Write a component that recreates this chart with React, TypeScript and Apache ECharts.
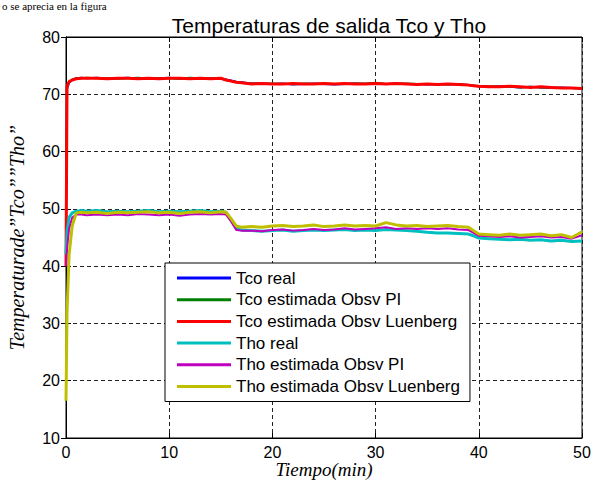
import React, { useEffect, useRef } from "react";
import * as echarts from "echarts";

const TITLE = "Temperaturas de salida Tco y Tho";
const X_NAME = "Tiempo(min)";
const Y_NAME = "Temperaturade”Tco””Tho”";
const TOP_TEXT = "o se aprecia en la figura";
const SERIES_NAMES = [
  "Tco real",
  "Tco estimada Obsv PI",
  "Tco estimada Obsv Luenberg",
  "Tho real",
  "Tho estimada Obsv PI",
  "Tho estimada Obsv Luenberg",
];
const COLORS = ["#0000ff", "#008000", "#ff0000", "#00bfbf", "#bf00bf", "#bfbf00"];
const WIDTHS = [2, 2, 3, 3, 2, 3];

// time (min)
const T = [
  0, 0.1, 0.3, 0.6, 1, 1.5, 2,
  3, 4, 5, 6, 7, 8, 9, 10, 11, 12, 13, 14, 15,
  15.5, 16, 16.5,
  17, 18, 19, 20, 21, 22, 23, 24, 25, 26, 27, 28, 29, 30, 31, 32, 33, 34, 35, 36, 37, 38, 39,
  39.5, 40, 41, 42, 43, 44, 45, 46, 47, 48, 49, 50,
];

const tcoReal = [
  46, 71.0, 72.0, 72.5, 72.8, 72.9, 72.8,
  72.9, 72.7, 72.8, 72.9, 72.7, 72.8, 72.8, 72.9, 72.7, 72.8, 72.7, 72.8, 72.7,
  72.6, 72.4, 72.2,
  72.1, 71.9, 71.9, 71.8, 71.9, 71.7, 71.8, 71.9, 71.8, 71.7, 71.8, 71.9, 71.8, 71.9, 71.8, 71.9, 71.8, 71.8, 71.7, 71.8, 71.7, 71.8, 71.6,
  71.5, 71.4, 71.3, 71.4, 71.3, 71.2, 71.3, 71.2, 71.1, 71.2, 71.1, 71.0,
];
const tcoPI = [
  48, 71.2, 72.1, 72.6, 72.8, 72.8, 72.9,
  72.8, 72.8, 72.7, 72.8, 72.9, 72.7, 72.8, 72.8, 72.7, 72.9, 72.8, 72.7, 72.8,
  72.5, 72.3, 72.1,
  72.0, 71.9, 71.8, 71.9, 71.8, 71.8, 71.9, 71.8, 71.9, 71.8, 71.8, 71.9, 71.9, 72.0, 71.8, 71.8, 71.9, 71.8, 71.8, 71.7, 71.8, 71.7, 71.6,
  71.5, 71.4, 71.4, 71.3, 71.3, 71.2, 71.3, 71.2, 71.2, 71.1, 71.1, 71.0,
];
const tcoLuen = [
  40, 71.5, 72.2, 72.5, 72.7, 72.8, 72.8,
  72.8, 72.7, 72.8, 72.8, 72.7, 72.8, 72.7, 72.8, 72.8, 72.7, 72.8, 72.7, 72.8,
  72.5, 72.3, 72.1,
  72.0, 71.8, 71.9, 71.8, 71.8, 71.9, 71.8, 71.8, 71.9, 71.8, 71.9, 71.8, 71.8, 71.9, 71.8, 71.9, 71.8, 71.7, 71.8, 71.7, 71.8, 71.7, 71.6,
  71.5, 71.4, 71.3, 71.3, 71.4, 71.3, 71.2, 71.3, 71.2, 71.1, 71.1, 71.0,
];
const thoReal = [
  42, 46.0, 48.5, 49.3, 49.6, 49.7, 49.6,
  49.7, 49.5, 49.6, 49.5, 49.6, 49.7, 49.5, 49.6, 49.5, 49.6, 49.7, 49.5, 49.6,
  49.4, 48.0, 46.6,
  46.3, 46.2, 46.1, 46.2, 46.3, 46.1, 46.2, 46.3, 46.2, 46.3, 46.4, 46.2, 46.3, 46.2, 46.4, 46.3, 46.2, 46.1, 45.9, 45.8, 45.8, 45.7, 45.6,
  45.3, 44.9, 44.8, 44.7, 44.6, 44.7, 44.5, 44.6, 44.4, 44.5, 44.3, 44.4,
];
const thoPI = [
  40, 43, 46.5, 48.5, 49.0, 49.0, 48.9,
  49.0, 48.9, 49.0, 48.9, 49.1, 49.0, 48.9, 49.0, 48.8, 49.0, 49.1, 49.0, 49.1,
  49.0, 47.8, 46.3,
  46.2, 46.2, 46.1, 46.3, 46.4, 46.2, 46.3, 46.5, 46.3, 46.4, 46.6, 46.4, 46.5, 46.6, 46.8, 46.5, 46.6, 46.5, 46.6, 46.5, 46.6, 46.4, 46.3,
  45.8, 45.3, 45.2, 45.1, 45.2, 45.0, 45.1, 45.2, 45.0, 45.1, 44.8, 45.4,
];
const thoLuen = [
  16.5, 32, 42, 47, 49.3, 49.4, 49.3,
  49.4, 49.2, 49.4, 49.3, 49.4, 49.5, 49.3, 49.4, 49.2, 49.4, 49.5, 49.3, 49.5,
  49.4, 48.3, 47.0,
  46.8, 46.9, 46.8, 47.0, 47.1, 46.9, 47.0, 47.2, 46.9, 47.0, 47.2, 47.0, 47.1, 47.0, 47.6, 47.2, 47.0, 47.1, 46.9, 47.0, 47.1, 46.9, 46.8,
  46.2, 45.6, 45.5, 45.4, 45.6, 45.4, 45.5, 45.6, 45.3, 45.5, 45.0, 46.0,
];

const ALL = [tcoReal, tcoPI, tcoLuen, thoReal, thoPI, thoLuen];

export default function App() {
  const ref = useRef<HTMLDivElement>(null);
  useEffect(() => {
    if (!ref.current) return;
    const chart = echarts.init(ref.current, null, { renderer: "svg" });
    const gridLine = { show: true, lineStyle: { color: "#222", width: 1, type: [4, 3] as any } };
    const tickFont = { fontFamily: "Arial, 'Liberation Sans', sans-serif", fontSize: 16, color: "#000" };
    chart.setOption({
      animation: false,
      backgroundColor: "#fff",
      title: {
        text: TITLE,
        left: 324,
        textAlign: "center",
        top: 10,
        textStyle: { fontFamily: "Arial, 'Liberation Sans', sans-serif", fontSize: 21, fontWeight: "normal", color: "#000" },
      },
      graphic: [
        {
          type: "text",
          left: 2,
          top: 0,
          style: { text: TOP_TEXT, font: "11px 'Liberation Serif', serif", fill: "#000" },
        },
        {
          type: "text",
          x: 324,
          y: 469,
          style: {
            text: X_NAME,
            font: "italic 19px 'Liberation Serif', serif",
            fill: "#000",
            align: "center",
            verticalAlign: "middle",
          },
        },
      ],
      grid: {
        left: 66,
        right: 19,
        top: 37,
        bottom: 44,
        containLabel: false,
        outerBoundsMode: "none",
        show: true,
        borderColor: "#000",
        borderWidth: 1,
        backgroundColor: "#fff",
      },
      legend: {
        left: 165,
        top: 263,
        orient: "vertical",
        data: SERIES_NAMES,
        icon: "rect",
        backgroundColor: "#fff",
        borderColor: "#000",
        borderWidth: 1,
        borderRadius: 0,
        padding: [6, 10, 6, 12],
        itemWidth: 54,
        itemHeight: 3,
        itemGap: 3.7,
        textStyle: { fontFamily: "Arial, 'Liberation Sans', sans-serif", fontSize: 17, color: "#000", lineHeight: 18 },
      },
      xAxis: [
        {
          type: "value",
          min: 0,
          max: 50,
          interval: 10,
          axisLine: { show: true, lineStyle: { color: "#000" } },
          axisTick: { show: true, inside: true, length: 5, lineStyle: { color: "#000" } },
          axisLabel: { ...tickFont, margin: 6 },
          splitLine: gridLine,
        },
        {
          type: "value",
          position: "top",
          min: 0,
          max: 50,
          interval: 10,
          axisLine: { show: true, lineStyle: { color: "#000" } },
          axisTick: { show: true, inside: true, length: 5, lineStyle: { color: "#000" } },
          axisLabel: { show: false },
          splitLine: { show: false },
        },
      ],
      yAxis: [
        {
          type: "value",
          min: 10,
          max: 80,
          interval: 10,
          name: Y_NAME,
          nameLocation: "middle",
          nameGap: 39,
          nameRotate: 90,
          nameTextStyle: { fontFamily: "'Liberation Serif', serif", fontStyle: "italic", fontSize: 20, color: "#000" },
          axisLine: { show: true, lineStyle: { color: "#000" } },
          axisTick: { show: true, inside: true, length: 5, lineStyle: { color: "#000" } },
          axisLabel: { ...tickFont, margin: 6 },
          splitLine: gridLine,
        },
        {
          type: "value",
          position: "right",
          min: 10,
          max: 80,
          interval: 10,
          axisLine: { show: true, lineStyle: { color: "#000" } },
          axisTick: { show: true, inside: true, length: 5, lineStyle: { color: "#000" } },
          axisLabel: { show: false },
          splitLine: { show: false },
        },
      ],
      series: SERIES_NAMES.map((name, k) => ({
        name,
        type: "line",
        xAxisIndex: 0,
        yAxisIndex: 0,
        symbol: "none",
        showSymbol: false,
        color: COLORS[k],
        itemStyle: { color: COLORS[k] },
        lineStyle: { color: COLORS[k], width: WIDTHS[k] },
        data: T.map((t, i) => [t, ALL[k][i]]),
        z: 2 + k,
      })),
    });
    return () => chart.dispose();
  }, []);
  return <div ref={ref} style={{ width: 601, height: 482, position: "absolute", left: 0, top: 0 }} />;
}
